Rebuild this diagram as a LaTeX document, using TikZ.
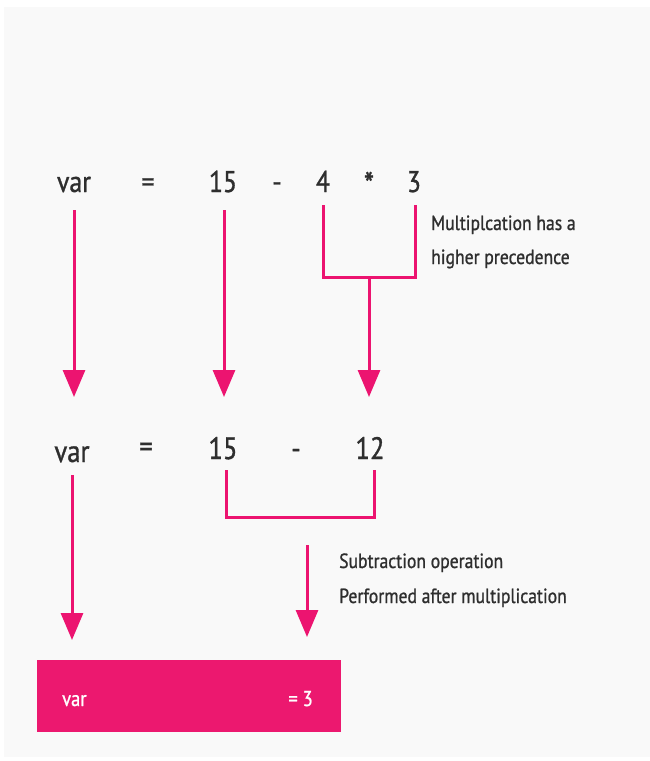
\documentclass[tikz,border=0pt]{standalone}
\usepackage{fontspec}
\setmainfont{PT Sans}[FakeStretch=0.86, FakeBold=1.0]
\usetikzlibrary{arrows.meta}
\definecolor{pinkline}{HTML}{EC1470}
\definecolor{boxpink}{HTML}{EC186F}
\definecolor{bgcol}{HTML}{F9F9F9}
\definecolor{ink}{HTML}{2E2E2E}
\begin{document}
\begin{tikzpicture}[x=1pt,y=-1pt,
  big/.style={text=ink, font=\fontsize{30}{36}\selectfont, anchor=base, inner sep=0pt},
  bigger/.style={text=ink, font=\fontsize{31}{37}\selectfont, anchor=base, inner sep=0pt},
  note/.style={text=ink, font=\fontsize{20.5}{34}\selectfont, anchor=base west, inner sep=0pt},
  arr/.style={draw=pinkline, line width=3pt, -{Triangle[width=22pt,length=27pt]}},
  brk/.style={draw=pinkline, line width=3pt},
  boxtext/.style={text=white, font=\fontsize{21.5}{25}\selectfont, inner sep=0pt}]
\useasboundingbox (0,0) rectangle (650,761);
\fill[bgcol] (4,7) rectangle (650,757);

% row 1
\node[big] (v1) at (74,192) {var};
\node[big] (e1) at (148,192) {=};
\node[big] (n15a) at (223,192) {15};
\node[big] (m1) at (277,192) {-};
\node[big] (n4) at (323,192) {4};
\node[big, anchor=center, font=\fontsize{34}{40}\selectfont] (st) at (369,184) {*};
\node[big] (n3) at (414,192) {3};

\node[note] (note1a) at (431,230) {Multiplcation has a};
\node[note] (note1b) at (431,264) {higher precedence};

% row 2
\node[bigger] (v2) at (72,462) {var};
\node[bigger] (e2) at (146,457) {=};
\node[bigger] (n15b) at (223,459) {15};
\node[bigger] (m2) at (296,459) {-};
\node[bigger] (n12) at (370,459) {12};

\node[note] (note2a) at (339,568) {Subtraction operation};
\node[note] (note2b) at (339,603) {Performed after multiplication};

% result box
\node[fill=boxpink, minimum width=304pt, minimum height=72pt, inner sep=0pt, anchor=north west] (res) at (37,660) {};
\node[boxtext, anchor=base west] (rv) at (62,706) {var};
\node[boxtext, anchor=base east] (rr) at (313,706) {= 3};

% coordinates
\coordinate (v1s) at (74,210);
\coordinate (v1e) at (74,397);
\coordinate (n15s) at (224,210);
\coordinate (n15e) at (224,397);
\coordinate (b1l) at (323,205);
\coordinate (b1r) at (415,205);
\coordinate (b1m) at (369,277);
\coordinate (b1e) at (369,397);
\coordinate (v2s) at (72,475);
\coordinate (v2e) at (72,640);
\coordinate (b2l) at (226,470);
\coordinate (b2r) at (374,470);
\coordinate (b2bl) at (226,517);
\coordinate (b2br) at (374,517);
\coordinate (r2s) at (307,545);
\coordinate (r2e) at (307,637);

% connectors
\draw[arr] (v1s) -- (v1e);
\draw[arr] (n15s) -- (n15e);
\draw[brk] (b1l) |- (b1m) -| (b1r);
\draw[arr] (b1m) -- (b1e);
\draw[arr] (v2s) -- (v2e);
\draw[brk] (b2l) -- (b2bl) -- (b2br) -- (b2r);
\draw[arr] (r2s) -- (r2e);
\end{tikzpicture}
\end{document}
